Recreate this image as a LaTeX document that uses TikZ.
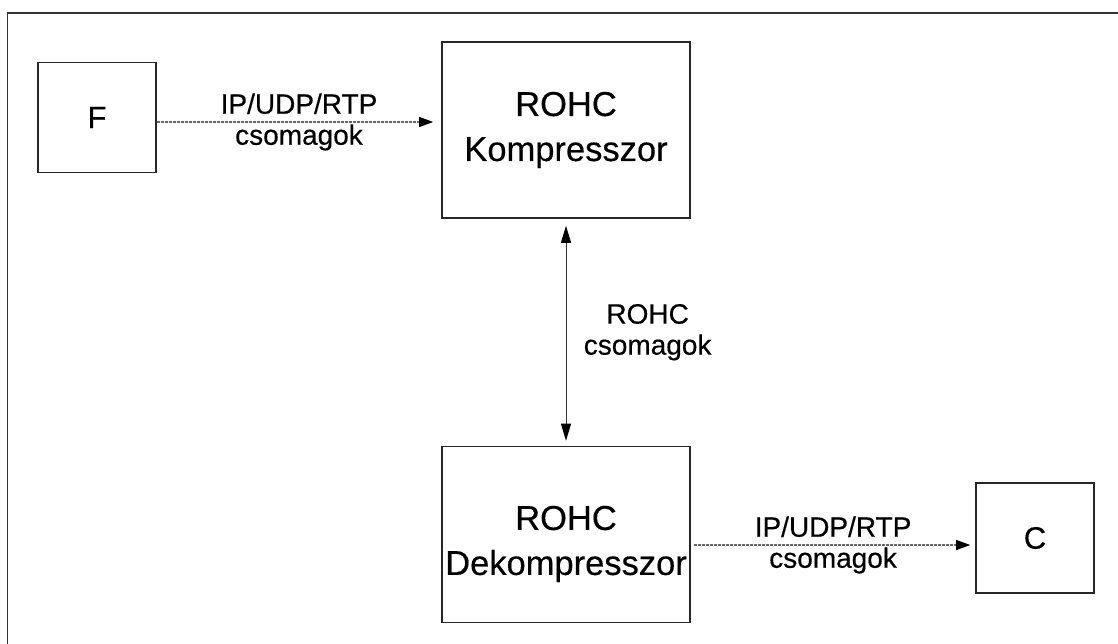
\documentclass[tikz,border=0pt]{standalone}
\usepackage{fontspec}
\setmainfont{Liberation Sans}[FakeBold=0.4]
\usetikzlibrary{arrows.meta,positioning}
\tikzset{
	block/.style={
		draw=black!85,
		line width=1.6pt,
		align=center,
		font=\fontsize{34.5}{45}\selectfont
	},
	term/.style={
		block,
		minimum width=118pt,
		minimum height=110pt,
		font=\fontsize{31}{34}\selectfont
	},
	packets/.style={
		-{Triangle[length=14pt,width=10pt,black]},
		black!60,
		line width=1.1pt,
		dash pattern=on 3pt off 1pt
	},
	feedback/.style={
		{Triangle[length=17pt,width=10pt,black]}-{Triangle[length=17pt,width=10pt,black]},
		black!80,
		line width=1pt
	},
	lbl/.style={
		align=center,
		text=black,
		font=\fontsize{28}{31}\selectfont
	}
}

\begin{document}
\begin{tikzpicture}[x=1pt,y=-1pt]

	\useasboundingbox (0,0) rectangle (1118,644);

	% Frame
	\draw[black!80, line width=1.3pt] (7.5,650) -- (7.5,13) -- (1125,13);

	\begin{scope}[
		proc/.style={block, minimum width=248pt, minimum height=176pt}
	]

		%% Source and sink
		\node[term] (src) at (97,117.5) {F};
		\node[term] (dst) at (1035,538) {C};

		%% ROHC blocks
		\node[proc] (comp) at (566,130) {ROHC\\Kompresszor};
		\node[proc] (decomp) at (566,534.5) {\rule{0pt}{43pt}ROHC\\Dekompresszor};

		% Connection end points
		\coordinate (srcout) at ([yshift=-4.5pt]src.east);
		\coordinate (dstin) at ([yshift=-7pt]dst.west);

		% Connections
		\draw[packets, shorten >=8pt] (srcout) -- node[lbl] {IP/UDP/RTP\\csomagok} (srcout -| comp.west);
		\draw[feedback, shorten <=7pt, shorten >=5pt] (comp.south) -- node[lbl, anchor=west, xshift=14pt] {ROHC\\csomagok} (decomp.north);
		\draw[packets, shorten <=3pt, shorten >=5pt] (decomp.east |- dstin) -- node[lbl] {IP/UDP/RTP\\csomagok} (dstin);
	\end{scope}

\end{tikzpicture}
\end{document}
